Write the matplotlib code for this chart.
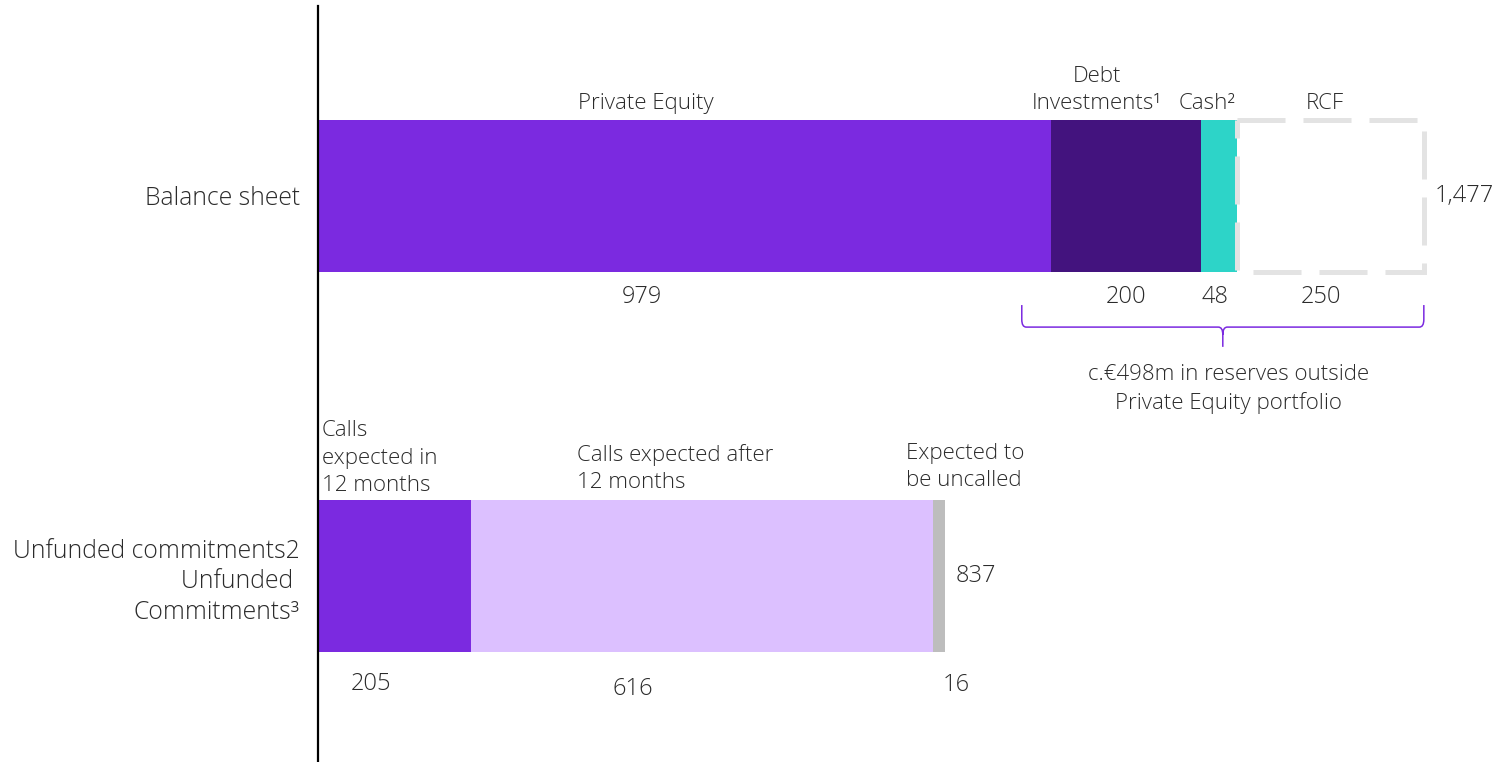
import matplotlib
matplotlib.use("Agg")
import matplotlib.pyplot as plt
from matplotlib.patches import Rectangle, PathPatch
from matplotlib.path import Path

plt.rcParams["font.family"] = ["Open Sans", "DejaVu Sans"]

# ---- data ----
categories = ["Balance sheet", "Unfunded commitments2\nUnfunded \nCommitments³"]

balance_labels = ["Private Equity", "Debt\nInvestments¹", "Cash²", "RCF"]
balance_values = [979, 200, 48, 250]
balance_total = 1477

commit_labels = ["Calls\nexpected in\n12 months", "Calls expected after\n12 months",
                 "Expected to\nbe uncalled"]
commit_values = [205, 616, 16]
commit_total = 837

reserves_text = "c.€498m in reserves outside\nPrivate Equity portfolio"

# ---- styling ----
balance_colors = ["#7B2AE0", "#43137E", "#2DD4C8", None]   # None -> dashed outline
commit_colors = ["#7B2AE0", "#DCC0FF", "#BDBDBD"]
text_color = "#2b2b2b"
fs = 16            # headers and notes
fs_num = 17        # value labels
fs_cat = 17.8      # category labels
fw = 300
ls = 1.4
bar_h = 0.4

fig = plt.figure(figsize=(14.98, 7.62), dpi=100)
ax = fig.add_axes([318 / 1498, 0, 1 - 318 / 1498, 1 - 6 / 762])
ax.set_xlim(0, 1180 / 0.7487)
ax.set_ylim(1.4895, -0.5)
for s in ["top", "right", "bottom"]:
    ax.spines[s].set_visible(False)
ax.spines["left"].set_linewidth(1.6)
ax.spines["left"].set_color("black")
ax.set_xticks([])
ax.set_yticks([0, 1])
ax.set_yticklabels(categories, fontsize=fs_cat, color=text_color, fontweight=fw,
                   linespacing=1.3)
ax.tick_params(axis="y", length=0, pad=13)
for t in ax.get_yticklabels()[1:]:
    t.set_y(0.985)

# ---- balance sheet row ----
top_dx = [-52, -39, -15, -7]        # horizontal nudges for the headers
val_dx = [-57, 0, -5, -13]          # horizontal nudges for the values
left = 0
for lab, v, c, tdx, vdx in zip(balance_labels, balance_values, balance_colors, top_dx, val_dx):
    if c is None:
        ax.add_patch(Rectangle((left, -bar_h / 2), v, bar_h, fill=False,
                               edgecolor="#E3E3E3", linewidth=3.6,
                               linestyle=(0, (9.6, 3.6)), zorder=3))
    else:
        ax.barh(0, v, left=left, height=bar_h, color=c, zorder=2)
    cx = left + v / 2
    ax.text(cx + tdx, -bar_h / 2 - 0.015, lab, ha="center", va="bottom",
            fontsize=fs, color=text_color, linespacing=ls, fontweight=fw)
    ax.text(cx + vdx, 0.266, f"{v:,}", ha="center", va="center",
            fontsize=fs_num, color=text_color, fontweight=fw)
    left += v
ax.text(balance_total + 15, 0, f"{balance_total:,}", ha="left", va="center",
        fontsize=fs_num, color=text_color, fontweight=fw)

# ---- brace under the reserves ----
bx0, bx1 = 940, balance_total
bxm = (bx0 + bx1) / 2
y_top, y_line, y_tip = 0.287, 0.345, 0.397
r = 6
verts = [(bx0, y_top), (bx0, y_line - 0.02), (bx0, y_line), (bx0 + r, y_line),
         (bxm - r, y_line), (bxm, y_line), (bxm, y_line + 0.02), (bxm, y_tip),
         (bxm, y_line + 0.02), (bxm, y_line), (bxm + r, y_line),
         (bx1 - r, y_line), (bx1, y_line), (bx1, y_line - 0.02), (bx1, y_top)]
codes = [Path.MOVETO, Path.LINETO, Path.CURVE3, Path.CURVE3,
         Path.LINETO, Path.CURVE3, Path.CURVE3, Path.LINETO,
         Path.MOVETO, Path.CURVE3, Path.CURVE3,
         Path.LINETO, Path.CURVE3, Path.CURVE3, Path.LINETO]
ax.add_patch(PathPatch(Path(verts, codes), fill=False, edgecolor="#7B2AE0",
                       linewidth=1.1, zorder=3))
ax.text(bxm + 8, 0.508, reserves_text, ha="center", va="center",
        fontsize=fs, color=text_color, linespacing=ls, fontweight=fw)

# ---- unfunded commitments row ----
head_x = [5, 346, 785]
head_y = [0.79, 0.782, 0.777]
val_dx = [-32, -92, 23]
val_y = [1.283, 1.297, 1.286]
left = 0
for lab, v, c, hx, hy, vdx, vy in zip(commit_labels, commit_values, commit_colors,
                                      head_x, head_y, val_dx, val_y):
    ax.barh(1, v, left=left, height=bar_h, color=c, zorder=2)
    ax.text(hx, hy, lab, ha="left", va="bottom", fontsize=fs, color=text_color,
            linespacing=ls, fontweight=fw)
    ax.text(left + v / 2 + vdx, vy, f"{v:,}", ha="center", va="center",
            fontsize=fs_num, color=text_color, fontweight=fw)
    left += v
ax.text(commit_total + 15, 1, f"{commit_total:,}", ha="left", va="center",
        fontsize=fs_num, color=text_color, fontweight=fw)

fig.savefig("out.png", dpi=100)
